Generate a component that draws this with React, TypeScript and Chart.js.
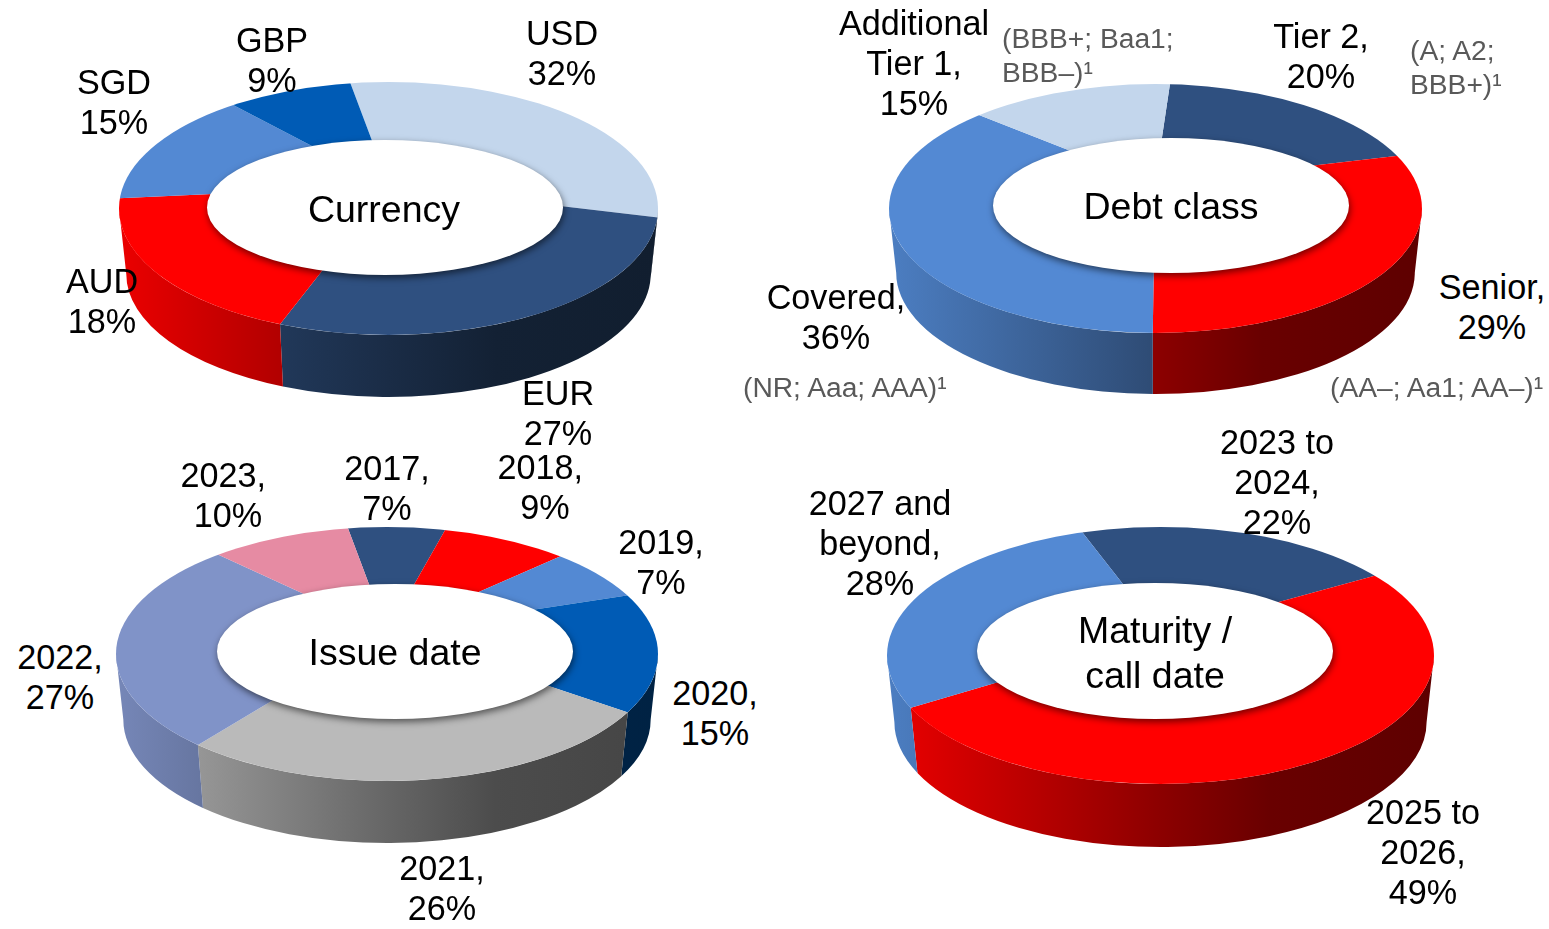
import React, { useEffect, useRef } from "react";
import { Chart, registerables } from "chart.js";

Chart.register(...registerables);

// ---- data ----
const currencyCategories = ["USD", "EUR", "AUD", "SGD", "GBP"];
const currencyValues = [32, 27, 18, 15, 9];
const currencyColors = ["#C3D6EC", "#2F5080", "#FF0000", "#5389D3", "#005BB5"];

const debtCategories = ["Tier 2,", "Senior,", "Covered,", "Additional\nTier 1,"];
const debtValues = [20, 29, 36, 15];
const debtColors = ["#2F5080", "#FF0000", "#5389D3", "#C3D6EC"];

const issueCategories = ["2017,", "2018, ", "2019,", "2020,", "2021,", "2022,", "2023, "];
const issueValues = [7, 9, 7, 15, 26, 27, 10];
const issueColors = ["#2F5080", "#FF0000", "#5389D3", "#005BB5", "#BABABA", "#8093C8", "#E68BA3"];

const maturityCategories = ["2023 to\n2024,", "2025 to\n2026,", "2027 and\nbeyond,"];
const maturityValues = [22, 49, 28];
const maturityColors = ["#2F5080", "#FF0000", "#5389D3"];

const ratingNotes = ["(BBB+; Baa1;\nBBB–)¹", "(A; A2;\nBBB+)¹", "(AA–; Aa1; AA–)¹", "(NR; Aaa; AAA)¹"];
const chartTitles = ["Currency", "Debt class", "Issue date", "Maturity /\ncall date"];

// ---- layout: ellipse of the top face, pivot of the slices, hole, wall ----
type Geo = {
  cx: number; cy: number; rx: number; ry: number; depth: number; pivotY: number; pivotX: number;
  rotation: number; hx: number; hy: number; hrx: number; hry: number;
};
const geoCurrency: Geo = { cx: 388.5, cy: 208.5, rx: 269.5, ry: 126.5, depth: 62, pivotX: 389, pivotY: 186, rotation: -10, hx: 385, hy: 207.5, hrx: 178, hry: 67.5 };
const geoDebt: Geo = { cx: 1155.5, cy: 208.5, rx: 266.5, ry: 124.5, depth: 61, pivotX: 1155, pivotY: 184, rotation: 4, hx: 1171, hy: 205.5, hrx: 178, hry: 67.5 };
const geoIssue: Geo = { cx: 387, cy: 654, rx: 271, ry: 127, depth: 62, pivotX: 387, pivotY: 632, rotation: -10, hx: 395, hy: 651.5, hrx: 178, hry: 67.5 };
const geoMaturity: Geo = { cx: 1160.5, cy: 655.5, rx: 273.5, ry: 128.5, depth: 63, pivotX: 1162, pivotY: 634, rotation: -20.2, hx: 1155, hy: 651, hrx: 178, hry: 68 };

const currencyLabelPos = [[562, 33], [558, 393], [102, 281], [114, 82], [272, 40]];
const debtLabelPos = [[1321, 36], [1492, 287], [836, 297], [914, 23]];
const issueLabelPos = [[387, 468], [545, 467], [661, 542], [715, 693], [442, 868], [60, 657], [228, 475]];
const maturityLabelPos = [[1277, 442], [1423, 812], [880, 503]];
const notePos = [[1002, 38], [1410, 50], [1330, 387], [743, 387]];
const titlePos = [[384, 209], [1171, 206], [395, 652], [1155, 630]];

const WALL_NARROW = 0.973;
const PIE_OVERSCAN = 1.25;
const WALL_STOPS: [number, number][] = [[0, 0.92], [0.5, 0.55], [0.7, 0.41], [1, 0.37]];

function shade(hex: string, f: number) {
  const n = parseInt(hex.slice(1), 16);
  const c = [(n >> 16) & 255, (n >> 8) & 255, n & 255].map((v) => Math.round(v * f));
  return `rgb(${c[0]},${c[1]},${c[2]})`;
}

function boxOf(g: Geo) {
  const left = Math.floor(g.cx - g.rx - 6);
  const top = Math.floor(g.cy - g.ry - 6);
  return { left, top, width: Math.ceil(2 * g.rx + 12), height: Math.ceil(2 * g.ry + g.depth + 14) };
}

function makePlugin(g: Geo) {
  const box = boxOf(g);
  const k = g.ry / g.rx;
  return {
    id: "tilted3d",
    beforeDatasetsDraw(chart: any) {
      const ctx: CanvasRenderingContext2D = chart.ctx;
      const els = chart.getDatasetMeta(0).data as any[];
      const colors = chart.data.datasets[0].backgroundColor as string[];
      const D = (g.cy - g.pivotY) / k;
      const Dx = g.pivotX - g.cx;
      const toPhi = (a: number) => {
        const ux = Math.cos(a), uy = Math.sin(a);
        const pu = Dx * ux - D * uy;
        const t = -pu + Math.sqrt(pu * pu - (Dx * Dx + D * D) + g.rx * g.rx);
        return Math.atan2(-D + t * uy, Dx + t * ux);
      };
      ctx.save();
      ctx.translate(-box.left, -box.top);
      const off = g.ry + g.depth - g.ry * WALL_NARROW;
      els.forEach((el, i) => {
        const p = el.getProps(["startAngle", "endAngle"], true);
        let a = toPhi(p.startAngle);
        let b = toPhi(p.endAngle);
        while (b < a) b += Math.PI * 2;
        const grad = ctx.createLinearGradient(g.cx - g.rx, 0, g.cx + g.rx, 0);
        WALL_STOPS.forEach(([t, f]) => grad.addColorStop(t, shade(colors[i], f)));
        for (const base of [-2 * Math.PI, 0, 2 * Math.PI]) {
          const lo = Math.max(a, base);
          const hi = Math.min(b, base + Math.PI);
          if (hi <= lo) continue;
          ctx.beginPath();
          ctx.ellipse(g.cx, g.cy, g.rx, g.ry, 0, lo, hi, false);
          ctx.ellipse(g.cx, g.cy + off, g.rx * WALL_NARROW, g.ry * WALL_NARROW, 0, hi, lo, true);
          ctx.closePath();
          ctx.fillStyle = grad;
          ctx.fill();
        }
      });
      ctx.beginPath();
      ctx.ellipse(g.cx, g.cy, g.rx, g.ry, 0, 0, Math.PI * 2);
      ctx.clip();
      const first = els[0].getProps(["x", "y", "outerRadius"], true);
      const s = (PIE_OVERSCAN * g.rx) / first.outerRadius;
      ctx.translate(g.pivotX, g.pivotY);
      ctx.scale(s, s * k);
      ctx.translate(-first.x, -first.y);
    },
    afterDatasetsDraw(chart: any) {
      const ctx: CanvasRenderingContext2D = chart.ctx;
      ctx.restore();
      ctx.save();
      ctx.translate(-box.left, -box.top);
      ctx.shadowColor = "rgba(0,0,0,0.55)";
      ctx.shadowBlur = 7;
      ctx.shadowOffsetX = 1;
      ctx.shadowOffsetY = 3;
      ctx.fillStyle = "#FFFFFF";
      ctx.beginPath();
      ctx.ellipse(g.hx, g.hy, g.hrx, g.hry, 0, 0, Math.PI * 2);
      ctx.fill();
      ctx.restore();
    },
  };
}

function Ring({ geo, labels, values, colors }: { geo: Geo; labels: string[]; values: number[]; colors: string[] }) {
  const ref = useRef<HTMLCanvasElement>(null);
  const box = boxOf(geo);
  useEffect(() => {
    const chart = new Chart(ref.current as HTMLCanvasElement, {
      type: "doughnut",
      data: {
        labels,
        datasets: [{ data: values, backgroundColor: colors, borderWidth: 0, clip: false } as any],
      },
      options: {
        responsive: false,
        maintainAspectRatio: false,
        animation: false,
        rotation: geo.rotation,
        cutout: "25%",
        plugins: { legend: { display: false }, tooltip: { enabled: false } },
      },
      plugins: [makePlugin(geo) as any],
    });
    return () => chart.destroy();
  }, []);
  return (
    <canvas
      ref={ref}
      width={box.width}
      height={box.height}
      style={{ position: "absolute", left: box.left, top: box.top, width: box.width, height: box.height }}
    />
  );
}

const FONT = '"Liberation Sans", Arial, sans-serif';

function Label({ x, y, text, size, lh, color = "#000", align = "center" }: any) {
  return (
    <div
      style={{
        position: "absolute",
        left: x,
        top: y - lh / 2,
        transform: align === "center" ? "translateX(-50%)" : undefined,
        fontFamily: FONT,
        fontSize: size,
        lineHeight: `${lh}px`,
        color,
        whiteSpace: "pre",
        textAlign: align,
      }}
    >
      {text}
    </div>
  );
}

const sideLabels = (cats: string[], vals: number[], pos: number[][]) =>
  cats.map((c, i) => <Label key={c} x={pos[i][0]} y={pos[i][1]} text={`${c}\n${vals[i]}%`} size={34.2} lh={40} />);

export default function App() {
  return (
    <div style={{ position: "absolute", left: 0, top: 0, width: 1549, height: 929, overflow: "hidden", background: "#fff" }}>
      <Ring geo={geoCurrency} labels={currencyCategories} values={currencyValues} colors={currencyColors} />
      <Ring geo={geoDebt} labels={debtCategories} values={debtValues} colors={debtColors} />
      <Ring geo={geoIssue} labels={issueCategories} values={issueValues} colors={issueColors} />
      <Ring geo={geoMaturity} labels={maturityCategories} values={maturityValues} colors={maturityColors} />
      {sideLabels(currencyCategories, currencyValues, currencyLabelPos)}
      {sideLabels(debtCategories, debtValues, debtLabelPos)}
      {sideLabels(issueCategories, issueValues, issueLabelPos)}
      {sideLabels(maturityCategories, maturityValues, maturityLabelPos)}
      {ratingNotes.map((t, i) => (
        <Label key={t} x={notePos[i][0]} y={notePos[i][1]} text={t} size={28.2} lh={34} color="#595959" align="left" />
      ))}
      {chartTitles.map((t, i) => (
        <Label key={t} x={titlePos[i][0]} y={titlePos[i][1]} text={t} size={37.5} lh={45} />
      ))}
    </div>
  );
}
